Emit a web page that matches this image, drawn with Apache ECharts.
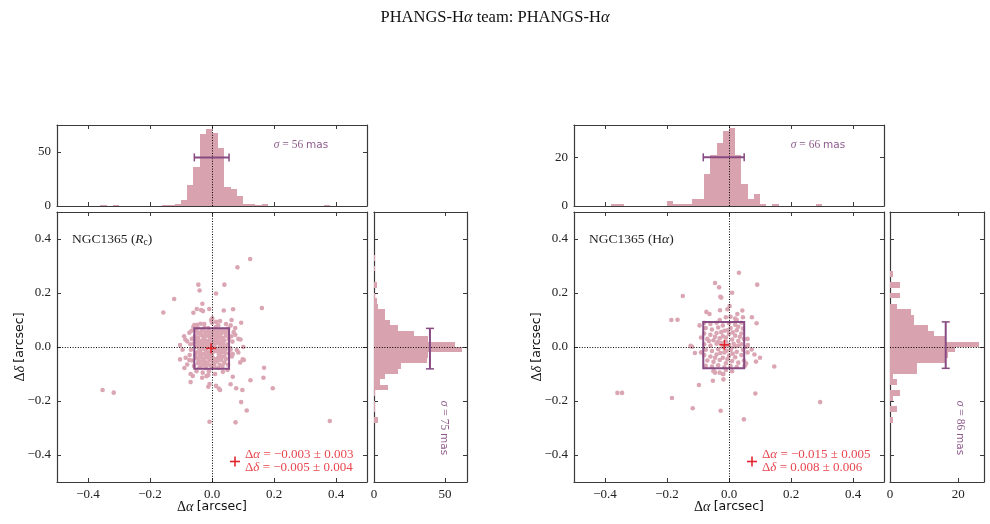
<!DOCTYPE html>
<html><head><meta charset="utf-8">
<script src="https://cdn.jsdelivr.net/npm/echarts@6/dist/echarts.min.js"></script>
<style>html,body{margin:0;padding:0;background:#fff}#c{width:990px;height:524px}</style>
</head><body><div id="c"></div>
<script>
// ---------------- DATA ----------------
const titleText = 'PHANGS-Hα team: PHANGS-Hα';
const panelLabels = ['NGC1365 (Rc)', 'NGC1365 (Hα)'];
const posTicks = [-0.4, -0.2, 0, 0.2, 0.4];
const binWidth = 0.02;

// Left panel (R_c) scatter points [Δα, Δδ]
const leftPoints = [
 [0.123,0.326],[0.082,0.295],[-0.044,0.231],[-0.040,0.209],[0.040,0.231],[0.013,0.198],[-0.122,0.178],[-0.157,0.128],
 [-0.031,0.160],[0.161,0.144],[-0.049,0.141],[-0.035,0.137],[-0.029,0.133],[-0.060,0.127],[-0.009,0.141],[0.038,0.135],
 [0.068,0.140],[0.001,0.106],[-0.003,0.100],[0.026,0.096],[0.013,0.093],[0.063,0.100],[0.094,0.090],[-0.037,0.086],
 [-0.057,0.081],[0.075,0.070],[-0.066,0.060],[-0.073,0.053],[-0.086,0.028],[-0.080,0.021],[-0.103,0.007],[0.101,0.000],
 [0.092,0.028],[0.080,-0.011],[0.067,-0.026],[-0.103,-0.046],[-0.073,-0.048],[-0.089,-0.078],[0.099,-0.046],[0.103,-0.048],
 [0.091,-0.057],[0.168,-0.077],[-0.069,-0.100],[-0.062,-0.107],[-0.069,-0.130],[-0.032,-0.114],[-0.018,-0.108],[-0.012,-0.104],
 [0.166,-0.114],[0.067,-0.110],[0.124,-0.123],[0.196,-0.153],[0.060,-0.138],[0.078,-0.153],[0.098,-0.159],[0.013,-0.144],
 [0.022,-0.154],[0.026,-0.159],[-0.012,-0.147],[-0.008,-0.137],[0.094,-0.204],[0.112,-0.235],[-0.008,-0.277],[0.076,-0.279],
 [-0.353,-0.159],[-0.317,-0.169],[0.380,-0.274],
 [-0.05,0.06],[-0.04,0.05],[-0.03,0.065],[-0.02,0.055],[-0.01,0.06],[0.0,0.05],[0.01,0.062],[0.02,0.058],[0.03,0.05],[0.04,0.064],[0.05,0.055],
 [-0.055,0.04],[-0.045,0.035],[-0.035,0.045],[-0.025,0.03],[-0.015,0.042],[-0.005,0.036],[0.005,0.044],[0.015,0.03],[0.025,0.04],[0.035,0.033],[0.045,0.042],
 [-0.05,0.02],[-0.04,0.015],[-0.03,0.025],[-0.02,0.012],[-0.01,0.022],[0.0,0.018],[0.01,0.026],[0.02,0.014],[0.03,0.02],[0.04,0.024],[0.05,0.01],
 [-0.052,0.0],[-0.042,-0.005],[-0.032,0.005],[-0.022,-0.008],[-0.012,0.002],[-0.002,-0.004],[0.008,0.006],[0.018,-0.006],[0.028,0.003],[0.038,-0.002],[0.048,0.004],
 [-0.048,-0.02],[-0.038,-0.015],[-0.028,-0.025],[-0.018,-0.018],[-0.008,-0.028],[0.002,-0.02],[0.012,-0.015],[0.022,-0.026],[0.032,-0.018],[0.042,-0.022],
 [-0.05,-0.04],[-0.04,-0.035],[-0.03,-0.045],[-0.02,-0.038],[-0.01,-0.042],[0.0,-0.036],[0.01,-0.046],[0.02,-0.04],[0.03,-0.034],[0.045,-0.044],
 [-0.045,-0.06],[-0.035,-0.055],[-0.025,-0.065],[-0.015,-0.058],[-0.005,-0.068],[0.005,-0.06],[0.015,-0.054],[0.025,-0.066],[0.04,-0.058],
 [-0.04,-0.075],[-0.02,-0.078],[0.0,-0.074],[0.02,-0.078],
 [-0.065,0.03],[-0.07,0.01],[-0.068,-0.01],[-0.072,-0.03],[-0.064,-0.05],[0.062,0.04],[0.066,0.02],[0.06,-0.01],[0.064,-0.035],[0.07,0.055],
 [0.075,0.045],[-0.06,0.075],[-0.048,0.082],[-0.025,0.085],[0.0,0.09],[0.02,0.08],[0.045,0.085],[0.06,0.08],[-0.05,-0.09],[-0.03,-0.095],
 [-0.01,-0.09],[0.01,-0.1],[0.035,-0.092],[0.05,-0.085],[0.085,0.03],[0.085,-0.02],[-0.09,0.04],[-0.095,-0.01],[-0.085,-0.04],[-0.08,-0.065],
 [-0.015,0.008],[-0.025,-0.002],[0.005,0.008],[-0.008,0.014],[0.012,-0.008],[-0.035,0.01],[0.025,0.012],[-0.018,-0.012],[0.004,0.028],[-0.028,0.038],
 [0.014,0.048],[-0.042,0.024],[0.032,-0.008],[-0.006,-0.05],[0.022,0.034],[-0.038,-0.028],[0.036,0.056],[-0.012,0.07],[0.008,-0.07],[-0.032,-0.068],
 [-0.045,0.012],[-0.036,-0.004],[-0.026,0.018],[-0.016,-0.03],[-0.006,0.028],[0.006,-0.01],[0.016,0.02],[0.026,-0.012],[0.036,0.012],[0.044,-0.008],
 [-0.046,0.052],[-0.034,0.058],[-0.022,0.046],[-0.008,0.048],[0.004,0.058],[0.018,0.046],[0.028,0.064],[0.044,0.052],[-0.054,0.028],[0.054,0.03],
 [-0.044,-0.048],[-0.034,-0.036],[-0.024,-0.052],[-0.012,-0.034],[0.006,-0.044],[0.018,-0.05],[0.03,-0.048],[0.04,-0.036],[-0.054,-0.03],[0.054,-0.024],
 [-0.03,-0.006],[-0.02,0.024],[-0.004,0.006],[0.01,0.016],[0.02,-0.016],[0.03,0.03],[-0.04,0.004],[0.0,-0.012],[-0.01,-0.02],[0.014,0.036],
 [-0.058,-0.07],[-0.046,0.07],[0.052,0.068],[0.052,-0.066],[-0.024,0.072],[0.012,0.074],[-0.014,-0.066],[0.034,-0.07],[-0.06,0.012],[0.058,-0.004]
];

// Right panel (Hα) scatter points [Δα, Δδ]
const rightPoints = [
 [0.032,0.275],[-0.045,0.237],[-0.032,0.221],[0.091,0.231],[-0.149,0.189],[-0.028,0.186],[-0.025,0.183],[0.010,0.201],
 [0.002,0.152],[-0.029,0.136],[-0.005,0.140],[-0.073,0.130],[-0.063,0.122],[0.043,0.135],[0.027,0.122],[0.005,0.112],
 [0.074,0.110],[-0.186,0.100],[-0.166,0.101],[0.089,0.088],[0.025,0.100],[0.061,0.007],[0.073,-0.009],[-0.124,0.004],
 [-0.119,0.001],[-0.110,-0.022],[0.082,-0.028],[0.100,-0.040],[0.087,-0.054],[0.146,-0.072],[0.052,-0.068],[-0.049,-0.089],
 [-0.018,-0.100],[-0.045,-0.095],[-0.052,-0.125],[-0.018,-0.120],[-0.097,-0.141],[0.085,-0.172],[-0.184,-0.189],[-0.117,-0.227],
 [-0.027,-0.236],[0.048,-0.268],[-0.360,-0.170],[-0.345,-0.170],[0.294,-0.204],
 [-0.08,0.09],[-0.06,0.085],[-0.04,0.09],[-0.02,0.08],[0.0,0.088],[0.02,0.082],[0.04,0.09],
 [-0.075,0.07],[-0.055,0.065],[-0.035,0.072],[-0.015,0.06],[0.005,0.07],[0.025,0.062],[0.045,0.068],
 [-0.08,0.05],[-0.06,0.045],[-0.04,0.052],[-0.02,0.04],[0.0,0.048],[0.02,0.042],[0.04,0.05],
 [-0.07,0.03],[-0.05,0.025],[-0.03,0.032],[-0.01,0.02],[0.01,0.028],[0.03,0.022],[0.048,0.03],
 [-0.08,0.01],[-0.06,0.005],[-0.04,0.012],[-0.02,0.0],[0.0,0.008],[0.02,0.002],[0.04,0.01],
 [-0.075,-0.01],[-0.055,-0.015],[-0.035,-0.008],[-0.015,-0.02],[0.005,-0.012],[0.025,-0.018],[0.045,-0.01],
 [-0.08,-0.03],[-0.06,-0.035],[-0.04,-0.028],[-0.02,-0.04],[0.0,-0.032],[0.02,-0.038],[0.04,-0.03],
 [-0.07,-0.05],[-0.05,-0.055],[-0.03,-0.048],[-0.01,-0.06],[0.01,-0.052],[0.03,-0.058],[0.048,-0.05],
 [-0.075,-0.07],[-0.055,-0.072],[-0.035,-0.068],[-0.015,-0.075],[0.005,-0.07],[0.025,-0.074],[0.05,-0.07],
 [-0.03,0.1],[-0.01,0.035],[0.015,0.012],[-0.025,0.015],[0.035,0.038],[-0.045,-0.04],[0.012,-0.025],[-0.065,0.022],[0.03,0.075],[-0.005,-0.045],
 [-0.05,-0.09],[-0.03,-0.095],[-0.01,-0.085],[0.01,-0.09],[-0.02,-0.1],[0.055,-0.06],[0.055,0.0],[0.06,-0.02],[0.06,0.03],[-0.09,0.035],
 [-0.09,-0.02],[-0.095,0.08],[0.02,0.105],[-0.01,0.11],[0.045,0.11],
 [-0.045,0.038],[-0.025,0.055],[-0.005,0.062],[0.012,0.054],[-0.036,0.018],[-0.012,0.004],[0.008,-0.004],[0.03,0.005],[-0.028,-0.022],[-0.008,-0.014]
];

// Histograms: bin left edges and counts (bin width 0.02 arcsec)
const leftAlphaBins   = [-0.36,-0.32,-0.16,-0.14,-0.12,-0.10,-0.08,-0.06,-0.04,-0.02,0.00,0.02,0.04,0.06,0.08,0.10,0.12,0.14,0.16,0.36];
const leftAlphaCounts = [1,1,1,1,2,6,19,36,67,71,68,54,18,16,9,2,2,1,2,1];
const leftDeltaBins   = [0.32,0.28,0.22,0.18,0.16,0.14,0.12,0.10,0.08,0.06,0.04,0.02,0.00,-0.02,-0.04,-0.06,-0.08,-0.10,-0.12,-0.14,-0.16,-0.18,-0.22,-0.24,-0.28];
const leftDeltaCounts = [1,1,2,1,2,3,8,8,11,17,28,38,57,62,38,37,19,17,8,4,10,1,1,1,3];
const rightAlphaBins   = [-0.38,-0.36,-0.20,-0.18,-0.16,-0.14,-0.12,-0.10,-0.08,-0.06,-0.04,-0.02,0.00,0.02,0.04,0.06,0.08,0.10,0.14,0.28];
const rightAlphaCounts = [1,1,2,1,1,1,3,3,13,21,26,31,32,21,9,3,5,1,1,1];
const rightDeltaBins   = [0.26,0.22,0.18,0.14,0.12,0.10,0.08,0.06,0.04,0.02,0.00,-0.02,-0.04,-0.06,-0.08,-0.10,-0.12,-0.14,-0.18,-0.20,-0.24,-0.28];
const rightDeltaCounts = [1,3,3,2,6,7,7,11,13,16,26,19,17,16,8,8,1,2,3,1,2,1];

// Gaussian widths (arcsec), centres and the histogram level at which the bars are drawn
const sigmaAlpha = [0.056, 0.066];
const sigmaDelta = [0.075, 0.086];
const centreAlpha = [-0.001, -0.017];
const centreDelta = [-0.006, 0.007];
const barLevelAlpha = [45, 20];
const barLevelDelta = [39.4, 16.3];
const meanOffset = [[-0.003, -0.005], [-0.015, 0.008]];
const sigmaTexts = [['56', '75'], ['66', '86']];
const offsetTexts = [['−0.003 ± 0.003', '−0.005 ± 0.004'], ['−0.015 ± 0.005', '0.008 ± 0.006']];
const histMax = [[75, 65.5], [33.3, 27.5]];
const histTicks = [[0, 50], [0, 20]];

// ---------------- STYLE ----------------
const SERIF = "'Liberation Serif', 'DejaVu Serif', serif";
const SANS = "'DejaVu Sans', 'Liberation Sans', sans-serif";
const AX = '#3a3a3a';
const PINK = '#d8a2ae';
const DOT = '#dba6b3';
const PURPLE = '#874a83';
const PURPLE_T = '#8e5a8c';
const RED = '#e2262e';
const RED_T = '#e8474f';

const G = [
  [{left:57,top:212,width:310,height:270},{left:57,top:125,width:310,height:81},{left:374,top:212,width:93,height:270}],
  [{left:574,top:212,width:310,height:270},{left:574,top:125,width:310,height:81},{left:890,top:212,width:94,height:270}]
];

function fmtPos(v){ return (Math.abs(v) < 1e-9 ? 0 : v).toFixed(1).replace('-', '−'); }
function fmtInt(v){ return String(Math.round(v)); }

function axis(grid, pos, min, max, ticks, showLabel, fmt) {
  return {
    type:'value', gridIndex:grid, position:pos, min:min, max:max,
    axisLine:{show:true, onZero:false, lineStyle:{color:AX, width:1.2}},
    axisTick:{show:true, inside:true, length:4, customValues:ticks, lineStyle:{color:AX, width:1}},
    axisLabel:{show:showLabel, customValues:ticks, formatter:fmt, fontFamily:SERIF, fontSize:13, color:'#222', margin:6},
    splitLine:{show:false}, minorTick:{show:false}, minorSplitLine:{show:false}
  };
}

const grids = [], xAxes = [], yAxes = [], series = [], graphics = [];

function histSeries(xi, yi, bins, counts, vertical) {
  const data = bins.map((b, i) => [b, b + binWidth, counts[i]]);
  return {
    type:'custom', xAxisIndex:xi, yAxisIndex:yi, data:data, clip:false, silent:true, z:2,
    encode: vertical ? {x:[0,1], y:2} : {x:2, y:[0,1]},
    renderItem:(params, api) => {
      const a = api.value(0), b = api.value(1), c = api.value(2);
      let p1, p2;
      if (vertical) { p1 = api.coord([a, c]); p2 = api.coord([b, 0]); }
      else { p1 = api.coord([0, b]); p2 = api.coord([c, a]); }
      const x1 = Math.round(p1[0]), y1 = Math.round(p1[1]), x2 = Math.round(p2[0]), y2 = Math.round(p2[1]);
      return {type:'rect', shape:{x:x1, y:y1, width:x2-x1, height:y2-y1},
              style:{fill:PINK}};
    },
    markLine:{silent:true, symbol:['none','none'], label:{show:false},
      lineStyle:{color:'#000', type:[1,1.6], width:1},
      data: vertical ? [{xAxis:0}] : [{yAxis:0}]}
  };
}

for (let p = 0; p < 2; p++) {
  const gb = p*3, ab = p*6;
  G[p].forEach(g => grids.push(g));
  // main
  xAxes.push(axis(gb, 'bottom', -0.5, 0.5, posTicks, true, fmtPos));
  xAxes.push(axis(gb, 'top', -0.5, 0.5, posTicks, false, fmtPos));
  yAxes.push(axis(gb, 'left', -0.5, 0.5, posTicks, true, fmtPos));
  yAxes.push(axis(gb, 'right', -0.5, 0.5, posTicks, false, fmtPos));
  // top histogram
  xAxes.push(axis(gb+1, 'bottom', -0.5, 0.5, posTicks, false, fmtPos));
  xAxes.push(axis(gb+1, 'top', -0.5, 0.5, posTicks, false, fmtPos));
  yAxes.push(axis(gb+1, 'left', 0, histMax[p][0], histTicks[p], true, fmtInt));
  yAxes.push(axis(gb+1, 'right', 0, histMax[p][0], histTicks[p], false, fmtInt));
  // right histogram
  xAxes.push(axis(gb+2, 'bottom', 0, histMax[p][1], histTicks[p], true, fmtInt));
  xAxes.push(axis(gb+2, 'top', 0, histMax[p][1], histTicks[p], false, fmtInt));
  yAxes.push(axis(gb+2, 'left', -0.5, 0.5, posTicks, false, fmtPos));
  yAxes.push(axis(gb+2, 'right', -0.5, 0.5, posTicks, false, fmtPos));

  const pts = p === 0 ? leftPoints : rightPoints;
  series.push({
    type:'scatter', xAxisIndex:ab, yAxisIndex:ab, data:pts, symbolSize:4.6, silent:true, z:2,
    itemStyle:{color:DOT, opacity:1},
    markLine:{silent:true, symbol:['none','none'], label:{show:false},
      lineStyle:{color:'#000', type:[1,1.6], width:1}, data:[{xAxis:0},{yAxis:0}]}
  });
  // sigma box
  series.push({
    type:'custom', xAxisIndex:ab, yAxisIndex:ab, z:4, silent:true, clip:false,
    data:[[centreAlpha[p], sigmaAlpha[p], centreDelta[p], sigmaDelta[p]]],
    renderItem:(params, api) => {
      const a = api.coord([api.value(0)-api.value(1), api.value(2)+api.value(3)]);
      const b = api.coord([api.value(0)+api.value(1), api.value(2)-api.value(3)]);
      return {type:'rect', shape:{x:a[0], y:a[1], width:b[0]-a[0], height:b[1]-a[1]},
              style:{fill:'none', stroke:PURPLE, lineWidth:2}};
    }
  });
  // mean offset cross
  series.push({
    type:'custom', xAxisIndex:ab, yAxisIndex:ab, z:5, silent:true, clip:false,
    data:[meanOffset[p]],
    renderItem:(params, api) => {
      const c = api.coord([api.value(0), api.value(1)]);
      return {type:'group', children:[
        {type:'line', shape:{x1:c[0]-5, y1:c[1], x2:c[0]+5, y2:c[1]}, style:{stroke:RED, lineWidth:1.6}},
        {type:'line', shape:{x1:c[0], y1:c[1]-5, x2:c[0], y2:c[1]+5}, style:{stroke:RED, lineWidth:1.6}}
      ]};
    }
  });
  // histograms
  series.push(histSeries(ab+2, ab+2, p===0?leftAlphaBins:rightAlphaBins, p===0?leftAlphaCounts:rightAlphaCounts, true));
  series.push(histSeries(ab+4, ab+4, p===0?leftDeltaBins:rightDeltaBins, p===0?leftDeltaCounts:rightDeltaCounts, false));
  // error bars
  series.push({
    type:'custom', xAxisIndex:ab+2, yAxisIndex:ab+2, z:5, silent:true, clip:false,
    data:[[centreAlpha[p], sigmaAlpha[p], barLevelAlpha[p]]],
    renderItem:(params, api) => {
      const a = api.coord([api.value(0)-api.value(1), api.value(2)]);
      const b = api.coord([api.value(0)+api.value(1), api.value(2)]);
      return {type:'group', children:[
        {type:'line', shape:{x1:a[0], y1:a[1], x2:b[0], y2:b[1]}, style:{stroke:PURPLE, lineWidth:2}},
        {type:'line', shape:{x1:a[0], y1:a[1]-4, x2:a[0], y2:a[1]+4}, style:{stroke:PURPLE, lineWidth:1.5}},
        {type:'line', shape:{x1:b[0], y1:b[1]-4, x2:b[0], y2:b[1]+4}, style:{stroke:PURPLE, lineWidth:1.5}}
      ]};
    }
  });
  series.push({
    type:'custom', xAxisIndex:ab+4, yAxisIndex:ab+4, z:5, silent:true, clip:false,
    data:[[centreDelta[p], sigmaDelta[p], barLevelDelta[p]]],
    renderItem:(params, api) => {
      const a = api.coord([api.value(2), api.value(0)+api.value(1)]);
      const b = api.coord([api.value(2), api.value(0)-api.value(1)]);
      return {type:'group', children:[
        {type:'line', shape:{x1:a[0], y1:a[1], x2:b[0], y2:b[1]}, style:{stroke:PURPLE, lineWidth:2}},
        {type:'line', shape:{x1:a[0]-4, y1:a[1], x2:a[0]+4, y2:a[1]}, style:{stroke:PURPLE, lineWidth:1.5}},
        {type:'line', shape:{x1:b[0]-4, y1:b[1], x2:b[0]+4, y2:b[1]}, style:{stroke:PURPLE, lineWidth:1.5}}
      ]};
    }
  });

  // ---- texts ----
  const mainL = G[p][0].left, mainCx = mainL + G[p][0].width/2;
  const rich = {
    i:{fontFamily:SERIF, fontStyle:'italic', fontSize:14},
    s:{fontFamily:SANS, fontSize:12.5},
    n:{fontFamily:SERIF, fontSize:14}
  };
  // axis titles
  graphics.push({type:'text', x:mainCx, y:507, silent:true,
    style:{text:'{n|Δ}{i|α} {s|[arcsec]}', rich:rich, fill:'#111', align:'center', verticalAlign:'middle'}});
  graphics.push({type:'text', x:mainL-37, y:347, rotation:Math.PI/2, silent:true,
    style:{text:'{n|Δ}{i|δ} {s|[arcsec]}', rich:rich, fill:'#111', align:'center', verticalAlign:'middle'}});
  // panel label
  const lab = p === 0
    ? '{n|NGC1365 (}{i|R}{sub|c}{n|)}'
    : '{n|NGC1365 (H}{i|α}{n|)}';
  graphics.push({type:'text', x:mainL+15, y:239, silent:true,
    style:{text:lab, fill:'#222', align:'left', verticalAlign:'middle',
      rich:{n:{fontFamily:SERIF, fontSize:13.5}, i:{fontFamily:SERIF, fontStyle:'italic', fontSize:13.5},
            sub:{fontFamily:SERIF, fontSize:9.5, verticalAlign:'bottom', padding:[6,0,0,0]}}}});
  // sigma texts
  const rt = {i:{fontFamily:SERIF, fontStyle:'italic', fontSize:11.5}, n:{fontFamily:SERIF, fontSize:11.5}, s:{fontFamily:SANS, fontSize:10.5}};
  graphics.push({type:'text', x:mainL+244, y:145, silent:true,
    style:{text:'{i|σ}{n| = '+sigmaTexts[p][0]+' }{s|mas}', rich:rt, fill:PURPLE_T, align:'center', verticalAlign:'middle'}});
  graphics.push({type:'text', x:G[p][2].left+70, y:428, rotation:-Math.PI/2, silent:true,
    style:{text:'{i|σ}{n| = '+sigmaTexts[p][1]+' }{s|mas}', rich:rt, fill:PURPLE_T, align:'center', verticalAlign:'middle'}});
  // offset legend
  const lx = mainL + 173;
  graphics.push({type:'group', x:lx+5, y:461.5, silent:true, children:[
    {type:'line', shape:{x1:-5, y1:0, x2:5, y2:0}, style:{stroke:RED, lineWidth:1.6}},
    {type:'line', shape:{x1:0, y1:-5, x2:0, y2:5}, style:{stroke:RED, lineWidth:1.6}}
  ]});
  const ro = {n:{fontFamily:SERIF, fontSize:13, lineHeight:12.5}, i:{fontFamily:SERIF, fontStyle:'italic', fontSize:13, lineHeight:12.5}};
  graphics.push({type:'text', x:lx+15, y:461, silent:true,
    style:{text:'{n|Δ}{i|α}{n| = '+offsetTexts[p][0]+'}\n{n|Δ}{i|δ}{n| = '+offsetTexts[p][1]+'}',
      rich:ro, fill:RED_T, align:'left', verticalAlign:'middle'}});
}

const chart = echarts.init(document.getElementById('c'), null, {renderer:'canvas'});
chart.setOption({
  animation:false,
  backgroundColor:'#fff',
  title:{text:'{n|PHANGS-H}{i|α}{n| team: PHANGS-H}{i|α}', left:'center', top:4,
    textStyle:{fontWeight:'normal', rich:{n:{fontFamily:SERIF, fontSize:16.5, fontWeight:'normal', color:'#111'},
      i:{fontFamily:SERIF, fontStyle:'italic', fontWeight:'normal', fontSize:16.5, color:'#111'}}}},
  grid:grids, xAxis:xAxes, yAxis:yAxes, series:series, graphic:graphics
});
</script></body></html>
